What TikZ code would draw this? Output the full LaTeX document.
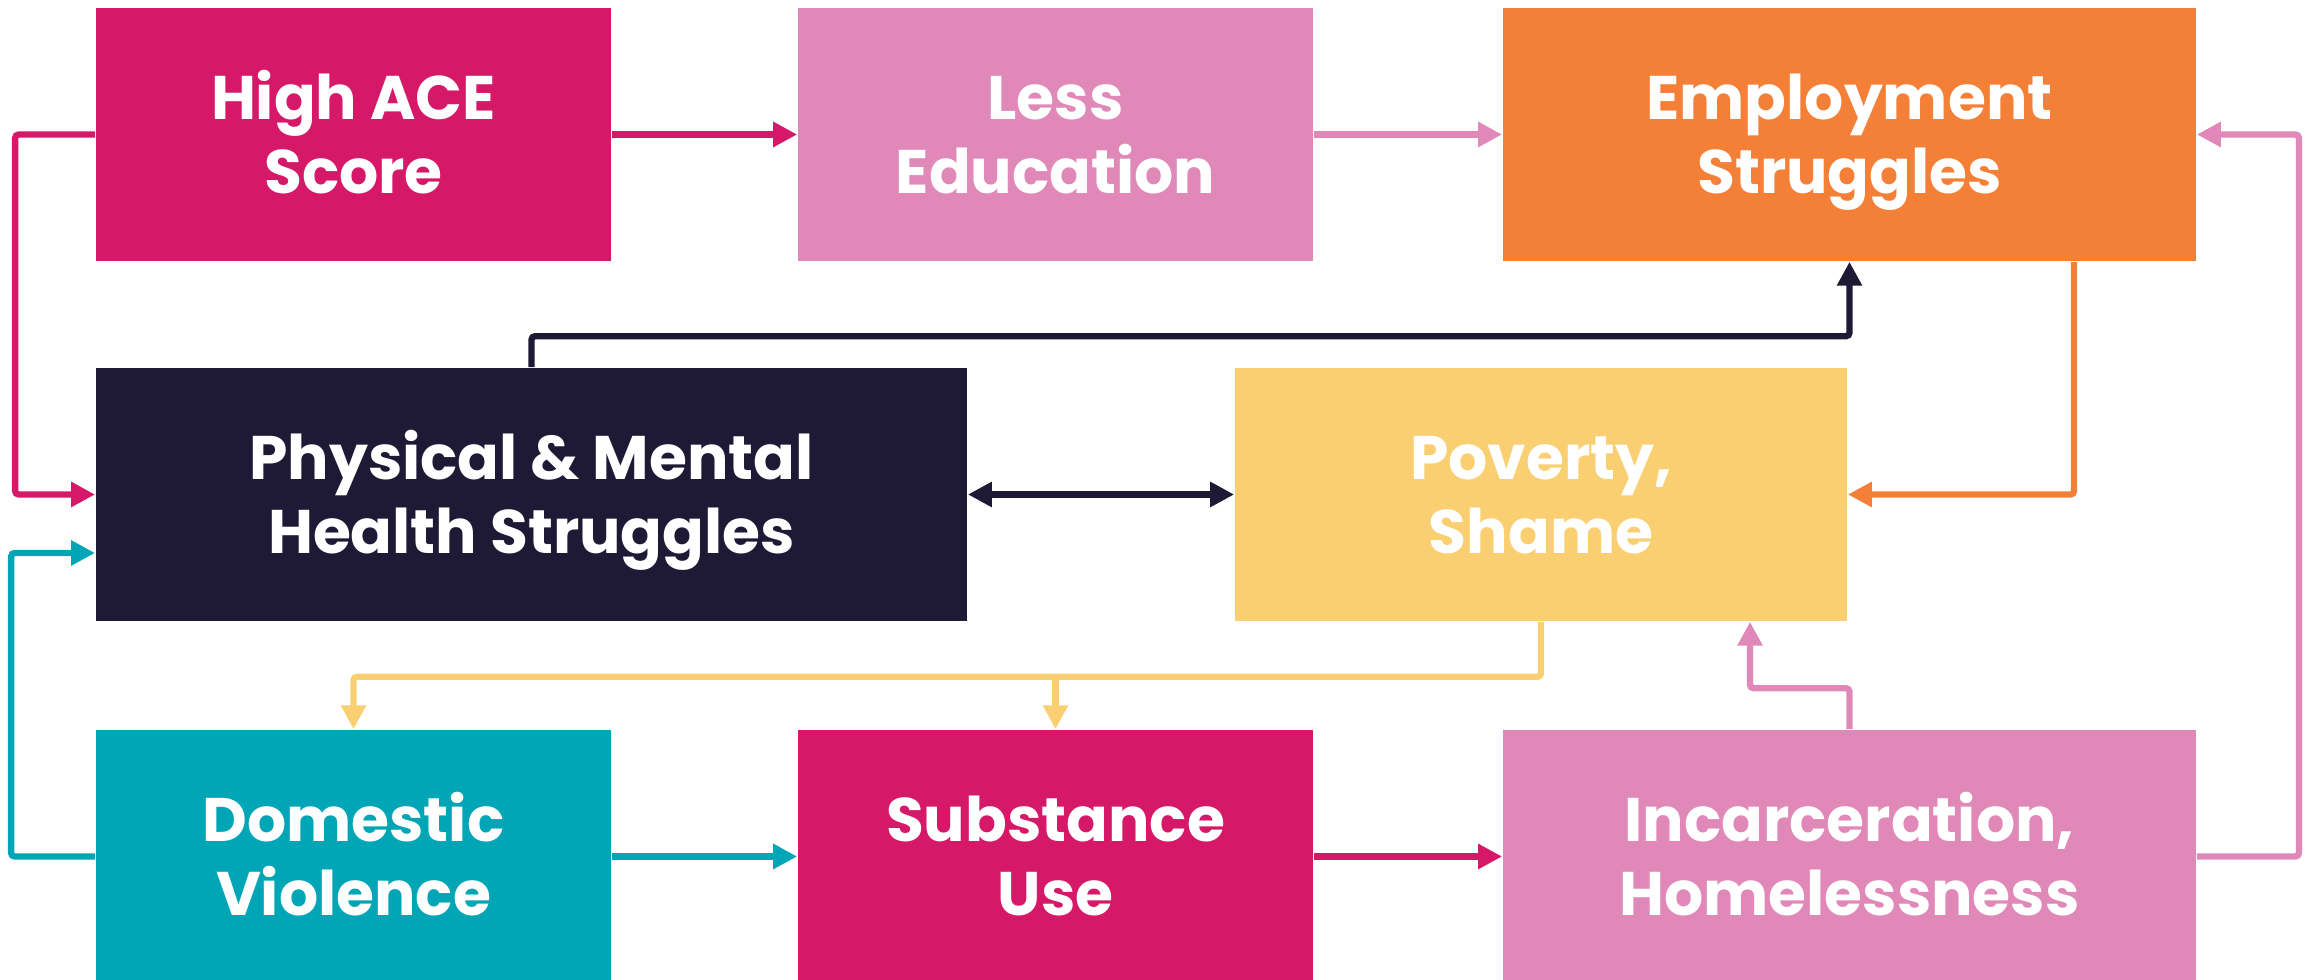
\documentclass[tikz,border=0pt]{standalone}
\usepackage{fontspec}
\setmainfont{Poppins}
\usetikzlibrary{arrows.meta,calc}
\definecolor{acered}{HTML}{D51968}
\definecolor{softpink}{HTML}{E089B8}
\definecolor{joborange}{HTML}{F48037}
\definecolor{darknavy}{HTML}{1E1A36}
\definecolor{sunyellow}{HTML}{FACF72}
\definecolor{seateal}{HTML}{00A6B5}
\newcommand\boxlines[2]{\rule{0pt}{17.4pt}#1\\#2\rule[-5pt]{0pt}{5pt}}

\begin{document}
\begin{tikzpicture}[x=0.01cm,y=-0.01cm,
            box/.style={rectangle,inner sep=0pt,minimum height=2.53cm,
              text=white,align=center,font=\fontsize{17.5}{21.2}\selectfont\bfseries},
            link/.style={line width=1.8pt,rounded corners=1pt,
              -{Triangle[length=6.8pt,width=6.8pt]}}]
 \useasboundingbox (0,0) rectangle (2305,980);

 \node[box,fill=acered,minimum width=5.15cm] (ace) at (353.5,134.5) {\boxlines{High ACE}{Score}};
 \node[box,fill=softpink,minimum width=5.15cm] (edu) at (1055.5,134.5) {\boxlines{Less}{Education}};
 \node[box,fill=joborange,minimum width=6.93cm] (emp) at (1849.5,134.5) {\boxlines{Employment}{Struggles}};
 \node[box,fill=darknavy,minimum width=8.71cm] (health) at (531.5,494.5) {\boxlines{Physical \& Mental}{Health Struggles}};
 \node[box,fill=sunyellow,minimum width=6.12cm] (pov) at (1541,494.5) {\boxlines{Poverty,}{Shame}};
 \node[box,fill=seateal,minimum width=5.15cm] (dv) at (353.5,856.5) {\boxlines{Domestic}{Violence}};
 \node[box,fill=acered,minimum width=5.15cm] (sub) at (1055.5,856.5) {\boxlines{Substance}{Use}};
 \node[box,fill=softpink,minimum width=6.93cm] (inc) at (1849.5,856.5) {\boxlines{Incarceration,}{Homelessness}};

 \draw[link,acered] (ace) -- (edu);
 \draw[link,softpink] (edu) -- (emp);
 \draw[link,acered] (ace.west) -- ++(-80,0) |- (health.west);
 \draw[link,seateal] (dv.west) -- ++(-84,0) |- ($(health.west)+(0,58.5)$);
 \draw[link,darknavy] (health.north) -- ++(0,-31) -| (emp.south);
 \draw[link,darknavy,{Triangle[length=6.8pt,width=6.8pt]}-{Triangle[length=6.8pt,width=6.8pt]}] (health) -- (pov);
 \draw[link,joborange] ($(emp.south)+(224.5,0)$) |- (pov.east);
 \draw[link,softpink] (inc.east) -- ++(102,0) |- (emp.east);
 \draw[link,softpink] (inc.north) -- ++(0,-41) -| ($(pov.south)+(209,0)$);
 \draw[link,sunyellow] (pov.south) -- ++(0,55) coordinate (fork) -| (dv.north);
 \draw[link,sunyellow] (fork -| sub.north) -- (sub.north);
 \draw[link,seateal] (dv) -- (sub);
 \draw[link,acered] (sub) -- (inc);
\end{tikzpicture}
\end{document}
